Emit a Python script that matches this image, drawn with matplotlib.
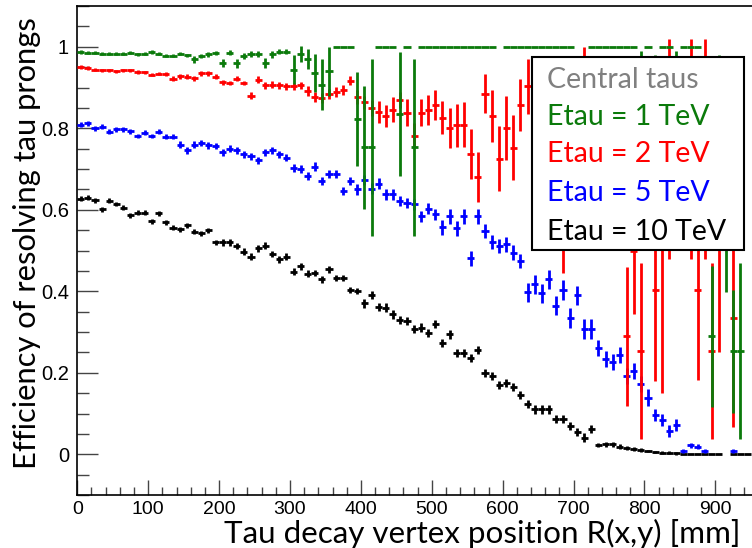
import numpy as np
import matplotlib
matplotlib.use("Agg")
import matplotlib.pyplot as plt
from matplotlib.patches import Rectangle
from matplotlib.ticker import MultipleLocator, FuncFormatter

nan = np.nan
# bin centres [mm] (10 mm bins)
r_mm = np.arange(5, 955, 10)

eff_1tev = [0.987, 0.985, 0.985, 0.983, 0.983, 0.983, 0.983, 0.985, 0.981, 0.983,
            0.987, 0.983, 0.978, 0.978, 0.983, 0.979, 0.969, 0.977, 0.981, 0.985,
            0.961, 0.985, 0.959, 0.977, 0.982, 0.982, 0.961, 0.981, 0.988, 0.988,
            0.944, 0.982, 0.970, 0.936, 0.907, 0.940, 1, 1, 1, 0.822,
            0.753, 0.753, 1, 1, 1, 0.834, 1, 0.753, 1, 1,
            1, 1, 1, 1, 1, 1, 1, 1, 1, nan,
            1, 1, 1, 1, 1, 1, 1, 1, 1, 1,
            nan, nan, 1, 1, 1, 1, 1, 1, 1, 0.75,
            1, 0.8, 1, 1, 0.8, 1, 1, 1, nan, 0.289,
            0.75, 0.667, 0.253, 0.253, nan]
err_1tev = [0.004] * 16 + [0.008, 0.005, 0.005, 0.005, 0.010, 0.006, 0.012, 0.008,
            0.007, 0.007, 0.012, 0.008, 0.007, 0.007, 0.035, 0.020, 0.025, 0.047,
            0.062, 0.060, 0, 0, 0, 0.115, 0.150, 0.217, 0, 0, 0, 0.152, 0, 0.217] \
    + [0] * 31 + [0.24, 0, 0.18, 0, 0, 0.19, 0, 0, 0, 0, 0.172, 0.23, 0.27, 0.151, 0.216, 0]

eff_2tev = [0.950, 0.948, 0.944, 0.942, 0.942, 0.940, 0.942, 0.942, 0.938, 0.937,
            0.931, 0.934, 0.933, 0.921, 0.927, 0.926, 0.923, 0.935, 0.935, 0.926,
            0.913, 0.911, 0.922, 0.911, 0.880, 0.919, 0.905, 0.907, 0.905, 0.903,
            0.903, 0.905, 0.891, 0.876, 0.874, 0.885, 0.889, 0.893, 0.917, 0.877,
            0.864, 0.850, 0.840, 0.831, 0.846, 0.869, 0.838, 0.782, 0.838, 0.845,
            0.858, 0.826, 0.801, 0.807, 0.809, 0.736, 0.681, 0.885, 0.830, 0.725,
            0.801, 0.752, 0.858, 0.903, 0.85, 0.80, 0.88, 0.75, 0.70, 0.85,
            0.80, 0.85, 0.80, 0.82, 0.75, 0.70, 0.72, 0.289, 0.50, 0.253,
            nan, 0.403, 0.55, 0.75, nan, 0.80, 0.75, 0.403, 0.75, 0.253,
            0.60, nan, 0.335, nan, nan]
err_2tev = [0.004] * 13 + [0.006] * 11 + [0.008] * 8 + [0.012] * 7 + \
    [0.018, 0.016, 0.020, 0.027, 0.027, 0.030, 0.020, 0.033, 0.030, 0.033,
     0.037, 0.037, 0.041, 0.049, 0.053, 0.055, 0.061, 0.061, 0.047, 0.063,
     0.080, 0.078, 0.080, 0.064, 0.067, 0.070, 0.080, 0.070, 0.100, 0.254,
     0.100, 0.100, 0.150, 0.100, 0.100, 0.120, 0.120, 0.120, 0.170, 0.157,
     0.216, 0, 0.223, 0.40, 0.27, 0, 0.15, 0.27, 0.22, 0.27,
     0.216, 0.35, 0, 0.269, 0, 0]

eff_5tev = [0.809, 0.812, 0.800, 0.804, 0.791, 0.797, 0.797, 0.793, 0.781, 0.789,
            0.781, 0.791, 0.779, 0.779, 0.760, 0.746, 0.760, 0.764, 0.758, 0.756,
            0.741, 0.750, 0.746, 0.736, 0.731, 0.721, 0.741, 0.746, 0.736, 0.728,
            0.702, 0.699, 0.683, 0.706, 0.670, 0.687, 0.687, 0.647, 0.670, 0.650,
            0.673, 0.652, 0.664, 0.638, 0.638, 0.621, 0.617, 0.613, 0.584, 0.603,
            0.589, 0.557, 0.584, 0.554, 0.584, 0.481, 0.584, 0.548, 0.521, 0.511,
            0.515, 0.495, 0.474, 0.397, 0.417, 0.395, 0.429, 0.365, 0.403, 0.335,
            0.390, 0.308, 0.308, 0.260, 0.233, 0.226, 0.244, 0.192, 0.204, 0.172,
            0.139, 0.096, 0.084, 0.057, 0.071, 0.008, 0.022, 0.019, 0.008, nan,
            nan, nan, 0.008, nan, nan]
err_5tev = [0.006] * 14 + [0.008] * 16 + [0.010] * 9 + [0.013] * 12 + [0.018] * 12 + \
    [0.024] * 10 + [0.020] * 8 + [0.015] * 4 + [0.006] * 10

eff_10tev = [0.627, 0.630, 0.623, 0.601, 0.622, 0.614, 0.605, 0.586, 0.593, 0.593,
             0.572, 0.591, 0.569, 0.556, 0.552, 0.562, 0.546, 0.542, 0.550, 0.520,
             0.520, 0.520, 0.511, 0.497, 0.485, 0.505, 0.512, 0.492, 0.478, 0.485,
             0.448, 0.461, 0.443, 0.445, 0.429, 0.454, 0.433, 0.432, 0.403, 0.401,
             0.370, 0.390, 0.362, 0.360, 0.343, 0.330, 0.328, 0.308, 0.311, 0.298,
             0.319, 0.274, 0.294, 0.249, 0.249, 0.237, 0.256, 0.199, 0.192, 0.169,
             0.175, 0.164, 0.145, 0.123, 0.110, 0.110, 0.110, 0.086, 0.086, 0.069,
             0.055, 0.041, 0.063, 0.022, 0.024, 0.024, 0.019, 0.016, 0.014, 0.011,
             0.008, 0.006, 0.004, 0.004, 0.002, 0, 0, 0, 0, 0,
             0, nan, 0, 0, 0]
err_10tev = [0.006] * 20 + [0.008] * 20 + [0.010] * 33 + [0.005] * 7 + [0.003] * 5 + [0] * 10

series = [
    ("Etau = 10 TeV", eff_10tev, err_10tev, "#000000"),
    ("Etau = 5 TeV", eff_5tev, err_5tev, "#0000ff"),
    ("Etau = 2 TeV", eff_2tev, err_2tev, "#ff0000"),
    ("Etau = 1 TeV", eff_1tev, err_1tev, "#0b7a0b"),
]
legend_title = "Central taus"
xlabel = "Tau decay vertex position R(x,y) [mm]"
ylabel = "Efficiency of resolving tau prongs"

W, H = 752, 548
fig = plt.figure(figsize=(W / 100, H / 100), dpi=100)
x0, x1, y0, y1 = 77.3, 752, 6, 495
ax = fig.add_axes([x0 / W, 1 - y1 / H, (x1 - x0) / W, (y1 - y0) / H])
ax.set_xlim(0, (x1 - x0) / 0.709)
ax.set_ylim(-0.1, 1.1)

for z, (name, vals, errs, col) in enumerate(series):
    v = np.asarray(vals, dtype=float)
    e = np.asarray(errs, dtype=float)
    ax.errorbar(r_mm, v, xerr=5, yerr=e, fmt="none", ecolor=col,
                elinewidth=2.0, capsize=0, zorder=2 + z)

for s in ["left", "bottom", "top"]:
    ax.spines[s].set_linewidth(1.2)
ax.spines["right"].set_visible(False)

ax.xaxis.set_major_locator(MultipleLocator(100))
ax.xaxis.set_minor_locator(MultipleLocator(20))
ax.yaxis.set_major_locator(MultipleLocator(0.2))
ax.yaxis.set_minor_locator(MultipleLocator(0.05))
ax.tick_params(axis="y", which="major", direction="in", length=21 * 0.72, width=1.0,
               color="#444444", pad=6, labelsize=14.5)
ax.tick_params(axis="y", which="minor", direction="in", length=12 * 0.72, width=1.0,
               color="#444444")
ax.tick_params(axis="x", which="major", direction="in", length=15 * 0.72, width=1.0,
               color="#444444", pad=4, labelsize=14)
ax.tick_params(axis="x", which="minor", direction="in", length=8 * 0.72, width=1.0,
               color="#444444")
ax.tick_params(top=False, right=False, which="both")
ax.yaxis.set_major_formatter(FuncFormatter(lambda v, p: f"{v:g}"))
for lab in ax.get_xticklabels() + ax.get_yticklabels():
    lab.set_family("Liberation Sans")

fig.text(740 / W, 1 - 533 / H, xlabel, ha="right", va="center", fontsize=22.6,
         family="Lato")
fig.text(27 / W, 1 - 243 / H, ylabel, ha="center", va="center", rotation=90,
         fontsize=22.2, family="Lato")

# legend box
lx0, lx1, ly0, ly1 = 531.7, 743.7, 56.7, 250
fig.patches.append(Rectangle((lx0 / W, 1 - ly1 / H), (lx1 - lx0) / W, (ly1 - ly0) / H,
                             transform=fig.transFigure, facecolor="white",
                             edgecolor="black", linewidth=1.5, zorder=10))
legend_rows = [(legend_title, "#808080")] + [(n, c) for n, _, _, c in series[::-1]]
row_y = [80, 117, 154, 193, 232]
for (txt, col), ry in zip(legend_rows, row_y):
    fig.text(547 / W, 1 - ry / H, txt, ha="left", va="center", fontsize=20.5,
             family="Lato", color=col, zorder=11)

fig.savefig("out.png", dpi=100)
